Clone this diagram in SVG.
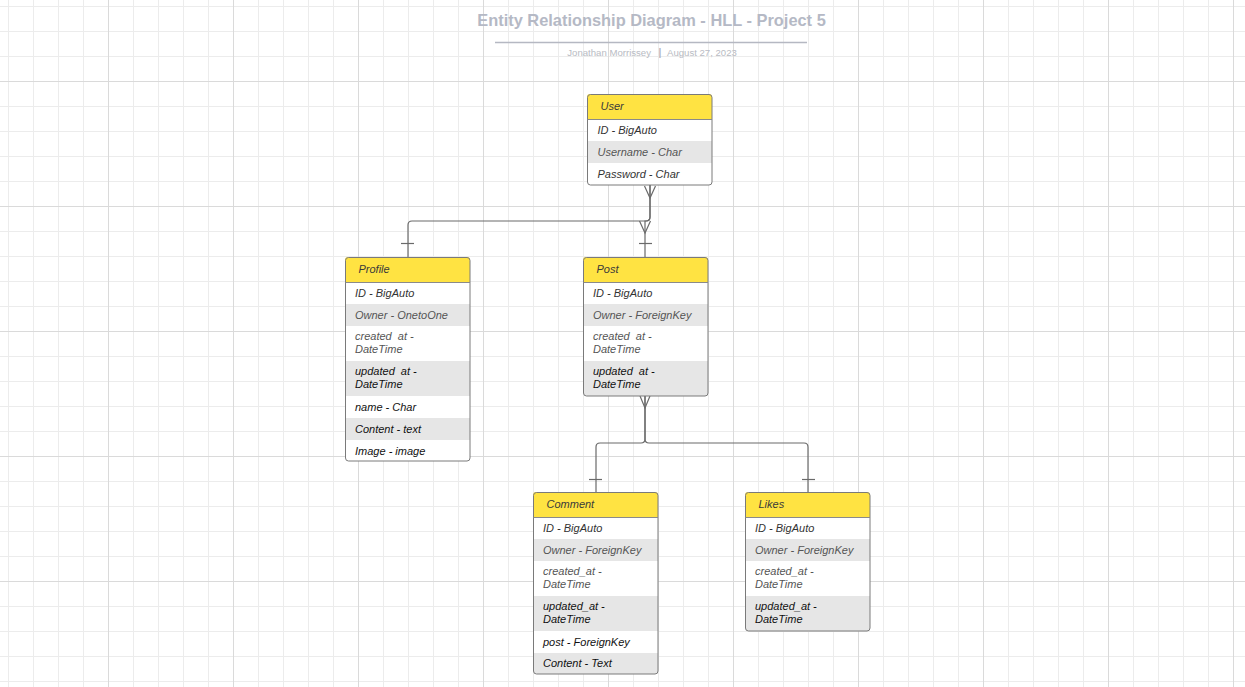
<svg xmlns="http://www.w3.org/2000/svg" width="1245" height="687" viewBox="0 0 1245 687">
<defs>
<pattern id="minor" x="8" y="6" width="25" height="25" patternUnits="userSpaceOnUse">
<path d="M0.5,0 V25 M0,0.5 H25" fill="none" stroke="#ececec" stroke-width="1"/>
</pattern>
<pattern id="major" x="108" y="81" width="125" height="125" patternUnits="userSpaceOnUse">
<path d="M0.5,0 V125 M0,0.5 H125" fill="none" stroke="#dadada" stroke-width="1"/>
</pattern>
</defs>
<style>
.t{font-family:"Liberation Sans",Arial,sans-serif;font-style:italic;font-size:11px;white-space:pre}
.hd{fill:#ffe342}
.hdt{fill:#3a3a3a}
.rw{fill:#ffffff}
.rg{fill:#e6e6e6}
.box{fill:none;stroke:#7a7a7a;stroke-width:1}
.sep{stroke:#8a8a8a;stroke-width:1}
.c1{fill:#333333}
.c2{fill:#555555}
.c3{fill:#111111}
.cn{fill:none;stroke:#6a6a6a;stroke-width:1.2}
</style>
<rect width="1245" height="687" fill="#ffffff"/>
<rect width="1245" height="687" fill="url(#minor)"/>
<rect width="1245" height="687" fill="url(#major)"/>

<g id="title">
<text x="651.5" y="26" text-anchor="middle" font-family="Liberation Sans,Arial,sans-serif" font-weight="bold" font-size="16.4" fill="#b5b9c5">Entity Relationship Diagram - HLL - Project 5</text>
<line x1="495" y1="42.5" x2="807" y2="42.5" stroke="#b5b8c2" stroke-width="1.5"/>
<text x="651" y="55.5" text-anchor="end" font-family="Liberation Sans,Arial,sans-serif" font-size="9.6" fill="#b8bbc3">Jonathan Morrissey</text>
<text x="660" y="55.5" text-anchor="middle" font-family="Liberation Sans,Arial,sans-serif" font-weight="bold" font-size="10" fill="#b0b3bc">|</text>
<text x="667" y="55.5" font-family="Liberation Sans,Arial,sans-serif" font-size="9.6" fill="#b8bbc3">August 27, 2023</text>
</g>

<g id="connectors">
<path class="cn" d="M650,185 V217 Q650,221 646,221 H412 Q408,221 408,225 V257"/>
<path class="cn" d="M650,185 V217 Q650,221 646,221 L645,221 V257"/>
<path class="cn" d="M644.5,186 L650,198 L655.5,186"/>
<path class="cn" d="M639.5,221 L645,233 L650.5,221"/>
<path class="cn" d="M401,243.5 H414"/>
<path class="cn" d="M639,243.5 H652"/>
<path class="cn" d="M645,396 V439 Q645,443 641,443 H600 Q596,443 596,447 V492"/>
<path class="cn" d="M645,396 V439 Q645,443 649,443 H804 Q808,443 808,447 V492"/>
<path class="cn" d="M640,396 L645,408 L650,396"/>
<path class="cn" d="M589,479.5 H602"/>
<path class="cn" d="M802,479.5 H815"/>
</g>

<g id="user">
<rect class="rw" x="587" y="94" width="125" height="91" rx="3"/>
<path class="hd" d="M590,94 H709 Q712,94 712,97 V119 H587 V97 Q587,94 590,94 Z"/>
<rect class="rg" x="587" y="141" width="125" height="22"/>
<rect class="box" x="587.5" y="94.5" width="124.5" height="90.5" rx="3"/>
<line class="sep" x1="587.5" y1="119.5" x2="712" y2="119.5"/>
<text class="t hdt" x="600.5" y="110">User</text>
<text class="t c1" x="597.5" y="134">ID - BigAuto</text>
<text class="t c2" x="597.5" y="156">Username - Char</text>
<text class="t c1" x="597.5" y="178">Password - Char</text>
</g>

<g id="profile">
<rect class="rw" x="345" y="257" width="125" height="204" rx="3"/>
<path class="hd" d="M348,257 H467 Q470,257 470,260 V282 H345 V260 Q345,257 348,257 Z"/>
<rect class="rg" x="345" y="304" width="125" height="22"/>
<rect class="rg" x="345" y="361" width="125" height="35"/>
<rect class="rg" x="345" y="418" width="125" height="22"/>
<rect class="box" x="345.5" y="257.5" width="124.5" height="203.5" rx="3"/>
<line class="sep" x1="345.5" y1="282.5" x2="470" y2="282.5"/>
<text class="t hdt" x="358.5" y="273">Profile</text>
<text class="t c1" x="355" y="297">ID - BigAuto</text>
<text class="t c2" x="355" y="319">Owner - OnetoOne</text>
<text class="t c2" x="355" y="340">created  at -</text>
<text class="t c2" x="355" y="353">DateTime</text>
<text class="t c3" x="355" y="375">updated  at -</text>
<text class="t c3" x="355" y="388">DateTime</text>
<text class="t c3" x="355" y="411">name - Char</text>
<text class="t c3" x="355" y="433">Content - text</text>
<text class="t c3" x="355" y="455">Image - image</text>
</g>

<g id="post">
<rect class="rw" x="583" y="257" width="125" height="139" rx="3"/>
<path class="hd" d="M586,257 H705 Q708,257 708,260 V282 H583 V260 Q583,257 586,257 Z"/>
<rect class="rg" x="583" y="304" width="125" height="22"/>
<path class="rg" d="M583,361 H708 V393 Q708,396 705,396 H586 Q583,396 583,393 Z"/>
<rect class="box" x="583.5" y="257.5" width="124.5" height="138.5" rx="3"/>
<line class="sep" x1="583.5" y1="282.5" x2="708" y2="282.5"/>
<text class="t hdt" x="596.5" y="273">Post</text>
<text class="t c1" x="593" y="297">ID - BigAuto</text>
<text class="t c2" x="593" y="319">Owner - ForeignKey</text>
<text class="t c2" x="593" y="340">created  at -</text>
<text class="t c2" x="593" y="353">DateTime</text>
<text class="t c3" x="593" y="375">updated  at -</text>
<text class="t c3" x="593" y="388">DateTime</text>
</g>

<g id="comment">
<rect class="rw" x="533" y="492" width="125" height="182" rx="3"/>
<path class="hd" d="M536,492 H655 Q658,492 658,495 V517 H533 V495 Q533,492 536,492 Z"/>
<rect class="rg" x="533" y="539" width="125" height="22"/>
<rect class="rg" x="533" y="596" width="125" height="35"/>
<path class="rg" d="M533,653 H658 V671 Q658,674 655,674 H536 Q533,674 533,671 Z"/>
<rect class="box" x="533.5" y="492.5" width="124.5" height="181.5" rx="3"/>
<line class="sep" x1="533.5" y1="517.5" x2="658" y2="517.5"/>
<text class="t hdt" x="546.5" y="508">Comment</text>
<text class="t c1" x="543" y="532">ID - BigAuto</text>
<text class="t c2" x="543" y="554">Owner - ForeignKey</text>
<text class="t c2" x="543" y="575">created_at -</text>
<text class="t c2" x="543" y="588">DateTime</text>
<text class="t c3" x="543" y="610">updated_at -</text>
<text class="t c3" x="543" y="623">DateTime</text>
<text class="t c3" x="543" y="646">post - ForeignKey</text>
<text class="t c3" x="543" y="667">Content - Text</text>
</g>

<g id="likes">
<rect class="rw" x="745" y="492" width="125" height="139" rx="3"/>
<path class="hd" d="M748,492 H867 Q870,492 870,495 V517 H745 V495 Q745,492 748,492 Z"/>
<rect class="rg" x="745" y="539" width="125" height="22"/>
<path class="rg" d="M745,596 H870 V628 Q870,631 867,631 H748 Q745,631 745,628 Z"/>
<rect class="box" x="745.5" y="492.5" width="124.5" height="138.5" rx="3"/>
<line class="sep" x1="745.5" y1="517.5" x2="870" y2="517.5"/>
<text class="t hdt" x="758.5" y="508">Likes</text>
<text class="t c1" x="755" y="532">ID - BigAuto</text>
<text class="t c2" x="755" y="554">Owner - ForeignKey</text>
<text class="t c2" x="755" y="575">created_at -</text>
<text class="t c2" x="755" y="588">DateTime</text>
<text class="t c3" x="755" y="610">updated_at -</text>
<text class="t c3" x="755" y="623">DateTime</text>
</g>
</svg>
